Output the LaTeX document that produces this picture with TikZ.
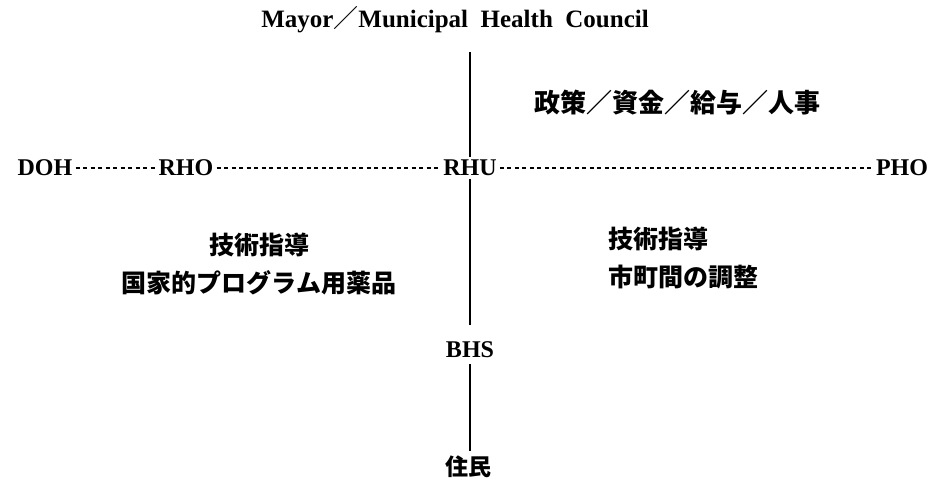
\documentclass[tikz,border=0pt]{standalone}
\usepackage{fontspec}
\setmainfont{Liberation Serif}
\newfontfamily\jp{Noto Sans CJK JP}
\begin{document}
\begin{tikzpicture}[x=1pt,y=-1pt,
  lat/.style={font=\fontsize{24}{28}\selectfont\bfseries, inner sep=3pt},
  jtext/.style={font=\jp\bfseries\fontsize{25}{38}\selectfont, inner sep=0pt},
  vline/.style={line width=2.4pt},
  dline/.style={line width=1.2pt, dash pattern=on 4pt off 3.5pt}]
\useasboundingbox[fill=white] (0,0) rectangle (937,489);
\node[lat, font=\fontsize{25}{28}\selectfont\bfseries] (mayor) at (455,20) {Mayor{\jp\mdseries ／}Municipal\ \ Health\ \ Council};
\node[jtext, font=\jp\bfseries\fontsize{26}{30}\selectfont] (policy) at (677,103) {政策／資金／給与／人事};
\node[lat] (doh) at (45,168) {DOH};
\node[lat] (rho) at (186,168) {RHO};
\node[lat] (rhu) at (470,168) {RHU};
\node[lat] (pho) at (902,168) {PHO};
\node[lat] (bhs) at (470,350) {BHS};
\node[jtext, font=\jp\bfseries\fontsize{23}{28}\selectfont] (jumin) at (468,467) {住民};
\node[jtext, align=center] (left) at (259,264) {技術指導\\国家的プログラム用薬品};
\node[jtext, align=left] (right) at (683,258) {技術指導\\市町間の調整};
\draw[vline, shorten >=16pt] (rhu.north) -- (rhu.north |- mayor.south);
\draw[vline, shorten >=14pt] (rhu.south) -- (bhs.north);
\draw[vline, shorten <=3pt, shorten >=5pt] (bhs.south) -- (bhs.south |- jumin.north);
\draw[dline] (doh) -- (rho);
\draw[dline] (rho) -- (rhu);
\draw[dline] (rhu) -- (pho);
\end{tikzpicture}
\end{document}
